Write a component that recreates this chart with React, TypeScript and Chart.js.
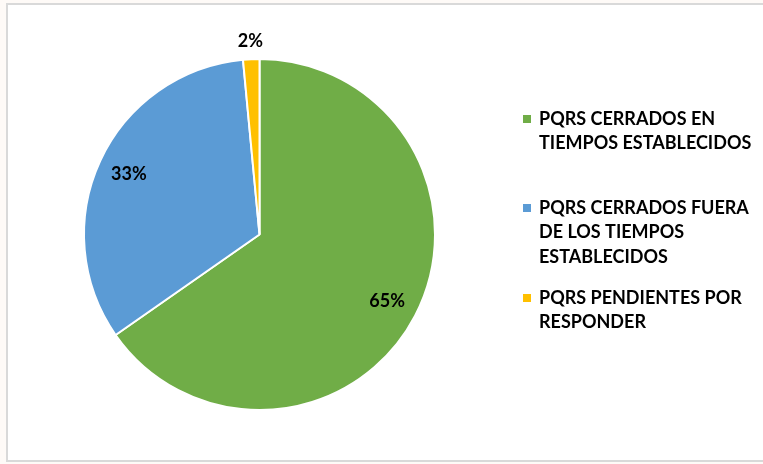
import React, { useEffect, useRef } from "react";
import { Chart, registerables } from "chart.js";

Chart.register(...registerables);

const categories: string[][] = [
  ["PQRS CERRADOS EN", "TIEMPOS ESTABLECIDOS"],
  ["PQRS CERRADOS FUERA", "DE LOS TIEMPOS", "ESTABLECIDOS"],
  ["PQRS PENDIENTES POR", "RESPONDER"],
];
const values: number[] = [65.3, 33.2, 1.5];
const valueLabels: string[] = ["65%", "33%", "2%"];
const colors: string[] = ["#70AD47", "#5B9BD5", "#FFC000"];

const FONT_FAMILY = "Lato, 'Open Sans', sans-serif";

const labelPlugin = {
  id: "sliceLabels",
  afterDatasetsDraw(chart: any) {
    const ctx = chart.ctx;
    const meta = chart.getDatasetMeta(0);
    ctx.save();
    ctx.font = `bold 18px ${FONT_FAMILY}`;
    ctx.fillStyle = "#000";
    ctx.textAlign = "center";
    ctx.textBaseline = "middle";
    meta.data.forEach((arc: any, i: number) => {
      const p = arc.getProps(["x", "y", "startAngle", "endAngle", "outerRadius"], true);
      const mid = (p.startAngle + p.endAngle) / 2;
      const frac = (p.endAngle - p.startAngle) / (Math.PI * 2);
      const r = frac < 0.05 ? p.outerRadius + 18 : p.outerRadius * 0.82;
      ctx.fillText(valueLabels[i], p.x + Math.cos(mid) * r, p.y + Math.sin(mid) * r);
    });
    ctx.restore();
  },
};

const legendPlugin = {
  id: "sideLegend",
  afterDraw(chart: any) {
    const ctx = chart.ctx;
    const itemCenters = [119, 208, 298];
    const lineH = 24.5;
    const markerX = 523;
    const textX = 539;
    ctx.save();
    ctx.font = `bold 18px ${FONT_FAMILY}`;
    ctx.textAlign = "left";
    ctx.textBaseline = "middle";
    categories.forEach((lines, i) => {
      const y0 = itemCenters[i];
      ctx.fillStyle = colors[i];
      ctx.fillRect(markerX, y0 - 4, 8, 8);
      ctx.fillStyle = "#000";
      lines.forEach((t, j) => ctx.fillText(t, textX, y0 + j * lineH));
    });
    ctx.restore();
  },
};

export default function App() {
  const ref = useRef<HTMLCanvasElement | null>(null);
  useEffect(() => {
    document.body.style.margin = "0";
    const chart = new Chart(ref.current as HTMLCanvasElement, {
      type: "pie",
      data: {
        labels: categories.map((c) => c.join(" ")),
        datasets: [
          {
            data: values,
            backgroundColor: colors,
            borderColor: "#FFFFFF",
            borderWidth: 2,
          },
        ],
      },
      options: {
        animation: false,
        responsive: false,
        maintainAspectRatio: false,
        layout: { padding: { left: 83, right: 327, top: 58, bottom: 53 } },
        plugins: {
          legend: { display: false },
          tooltip: { enabled: false },
        },
      },
      plugins: [labelPlugin, legendPlugin],
    });
    return () => chart.destroy();
  }, []);

  return (
    <div style={{ position: "relative", width: 763, height: 464, background: "#FEFAF7", overflow: "hidden" }}>
      <div
        style={{
          position: "absolute",
          left: 6,
          top: 3,
          width: 770,
          height: 459,
          border: "2px solid #D9D9D9",
          background: "#FFFFFF",
          boxSizing: "border-box",
        }}
      />
      <canvas ref={ref} width={763} height={464} style={{ position: "absolute", left: 0, top: 0 }} />
    </div>
  );
}
